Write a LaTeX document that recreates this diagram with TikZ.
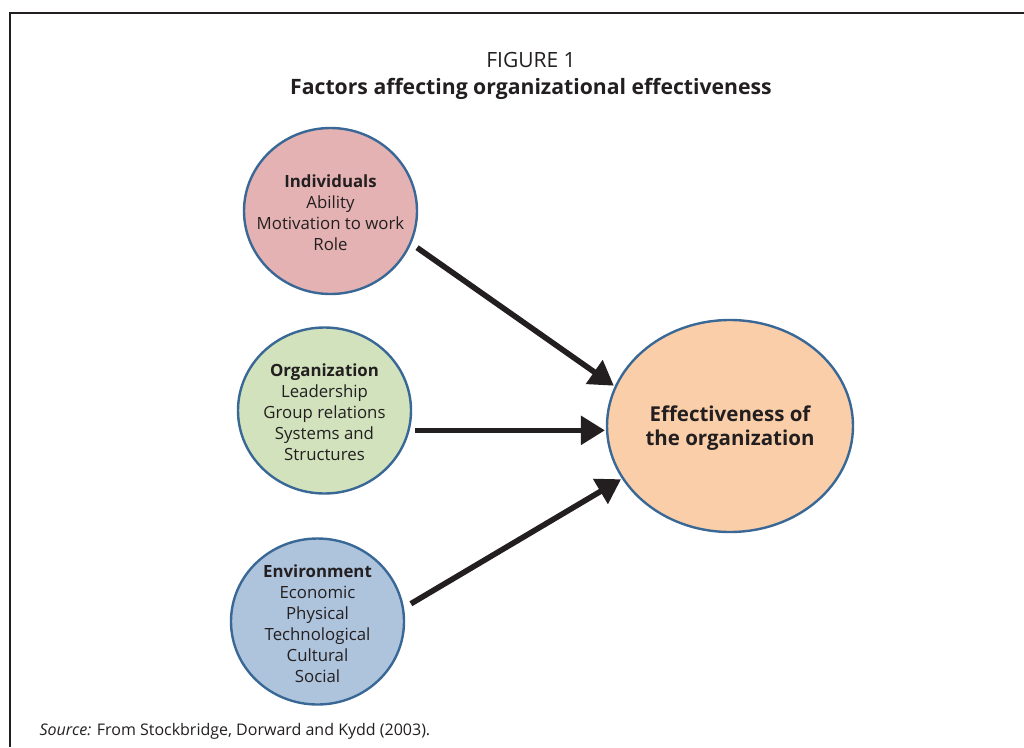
\documentclass[tikz,border=0pt]{standalone}
\usepackage{fontspec}
\setmainfont{Open Sans}
\usetikzlibrary{shapes.geometric,arrows.meta}

\definecolor{inkgray}{HTML}{231F20}
\definecolor{rimblue}{HTML}{3A6896}
\definecolor{indpink}{HTML}{E4B2B3}
\definecolor{orggreen}{HTML}{D1E2BD}
\definecolor{envblue}{HTML}{AEC4DD}
\definecolor{effpeach}{HTML}{F9CEA9}

\tikzset{
    factor/.style={ellipse, draw=rimblue, line width=2.4pt, inner sep=0pt,
        minimum width=173pt, minimum height=166pt},
    inside/.style={text=inkgray, align=center, yshift=-2pt,
        font=\fontsize{16.8}{21}\selectfont},
    push/.style={draw=inkgray, line width=5.6pt,
        -{Triangle[length=24pt,width=28pt]}},
}

\begin{document}
\begin{tikzpicture}[x=1pt, y=-1pt]
    \useasboundingbox (0,0) rectangle (1024,747);
    % frame
    \draw [inkgray, line width=1.4pt] (10,747) -- (10,13) -- (1024,13);
    % heading
    \node (fig) [text=inkgray, font=\fontsize{21}{25}\selectfont] at (531,60) {FIGURE 1};
    \node (title) [text=inkgray, font=\fontsize{21.2}{25}\selectfont\bfseries] at (531,89)
        {Factors affecting organizational effectiveness};
    % factors
    \node (ind) [factor, fill=indpink,
        label={[inside]center:\textbf{Individuals}\\Ability\\Motivation to work\\Role}] at (330.5,211) {};
    \node (org) [factor, fill=orggreen,
        label={[inside]center:\textbf{Organization}\\Leadership\\Group relations\\Systems and\\Structures}] at (324.5,410.5) {};
    \node (env) [factor, fill=envblue,
        label={[inside]center:\textbf{Environment}\\Economic\\Physical\\Technological\\Cultural\\Social}] at (317.5,621.5) {};
    % outcome
    \node (eff) [factor, fill=effpeach, minimum width=246pt, minimum height=212pt,
        label={[inside, font=\fontsize{20.5}{24}\selectfont\bfseries]center:Effectiveness of\\the organization}] at (730,426) {};
    % arrows
    \draw [push, shorten <=7pt, shorten >=1pt] (ind.-22) -- (eff.161);
    \draw [push, shorten <=3pt, shorten >=1pt] (org.east |- eff.182) -- (eff.182);
    \draw [push, shorten <=8pt, shorten >=1pt] (env.9) -- (eff.206);
    % source
    \node (src) [anchor=west, text=inkgray, font=\fontsize{16}{19}\selectfont] at (36,731)
        {\textit{Source:}\/ From Stockbridge, Dorward and Kydd (2003).};
\end{tikzpicture}
\end{document}
